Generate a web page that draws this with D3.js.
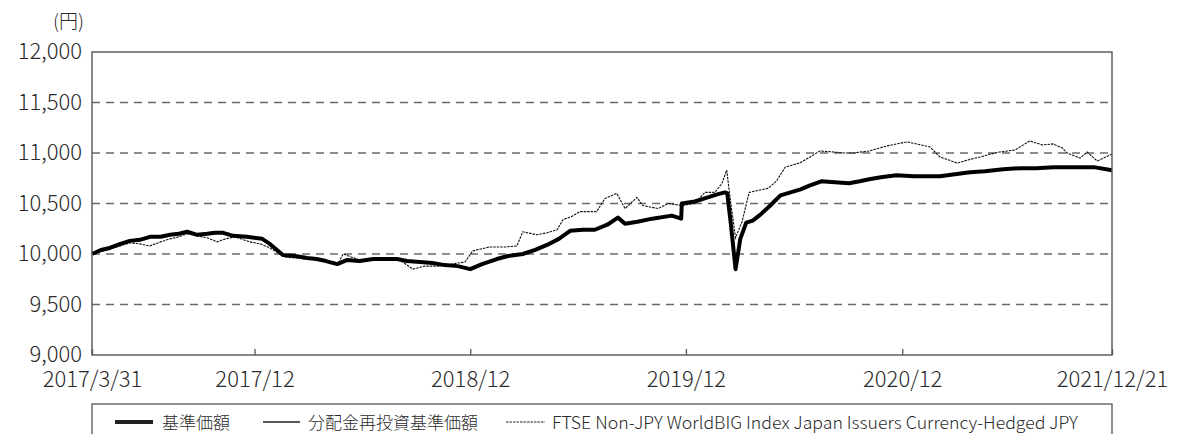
<!DOCTYPE html>
<html>
<head>
<meta charset="utf-8">
<script src="https://cdn.jsdelivr.net/npm/d3@7"></script>
<style>
  body { margin: 0; background: #fff; }
  svg { display: block; font-family: "Noto Sans CJK JP", "Noto Sans", sans-serif; font-weight: 300; }
</style>
</head>
<body>
<svg id="chart" width="1178" height="434"></svg>
<script>
//------------------------------------------------------------------------------
//Data
//------------------------------------------------------------------------------
// 基準価額 (no distributions, so 分配金再投資基準価額 runs on the same values)
let navDates = ["2017-03-31","2017-04-15","2017-04-30","2017-05-18","2017-06-03","2017-06-20","2017-07-07","2017-07-25",
  "2017-08-10","2017-08-25","2017-09-08","2017-09-25","2017-10-12","2017-10-25","2017-11-08","2017-11-25",
  "2017-12-18","2018-01-13","2018-01-26","2018-02-17","2018-03-10","2018-03-30","2018-04-15","2018-05-01","2018-05-20",
  "2018-06-05","2018-06-27","2018-07-20","2018-08-29","2018-09-15","2018-10-07","2018-10-28","2018-11-18","2018-12-10",
  "2018-12-31","2019-01-20","2019-02-14","2019-03-05","2019-03-30","2019-04-20","2019-05-10","2019-05-30","2019-06-18",
  "2019-07-10","2019-07-30","2019-08-20","2019-09-07","2019-09-19","2019-10-10","2019-11-04","2019-12-07","2019-12-23",
  "2019-12-24","2020-01-15","2020-02-06","2020-02-22","2020-03-06","2020-03-10","2020-03-16","2020-03-24","2020-04-01",
  "2020-04-11","2020-04-22","2020-05-05","2020-05-20","2020-06-08","2020-06-25","2020-07-12","2020-07-28","2020-08-16",
  "2020-09-08","2020-10-02","2020-10-20","2020-11-05","2020-11-25","2020-12-21","2021-01-20","2021-02-15","2021-03-05",
  "2021-03-30","2021-04-25","2021-05-20","2021-06-20","2021-07-20","2021-08-15","2021-09-13","2021-10-15","2021-11-20",
  "2021-12-21"];
let navValues = [10000,10040,10060,10100,10130,10140,10170,10170,
  10190,10200,10220,10190,10200,10210,10210,10180,
  10170,10150,10100,9990,9980,9960,9950,9930,9900,
  9940,9930,9950,9950,9930,9920,9910,9890,9880,
  9850,9900,9950,9980,10000,10040,10090,10150,10230,
  10240,10240,10290,10360,10300,10320,10350,10380,10350,
  10500,10520,10560,10590,10610,10600,10300,9850,10150,
  10310,10330,10390,10470,10580,10610,10640,10680,10720,
  10710,10700,10720,10740,10760,10780,10770,10770,10770,
  10790,10810,10820,10840,10850,10850,10860,10860,10860,
  10830];
let reinvestValues = navValues;

// FTSE Non-JPY WorldBIG Index Japan Issuers Currency-Hedged JPY
let idxDates = ["2017-03-31","2017-04-30","2017-05-18","2017-06-03","2017-06-20","2017-07-07","2017-07-25","2017-08-10",
  "2017-08-25","2017-09-08","2017-09-25","2017-10-12","2017-10-29","2017-11-12","2017-11-28","2017-12-23","2018-01-10",
  "2018-01-26","2018-02-21","2018-03-10","2018-03-30","2018-04-20","2018-05-20","2018-05-30","2018-06-27","2018-07-25",
  "2018-08-29","2018-09-25","2018-10-15","2018-11-10","2018-12-09","2018-12-22","2019-01-04","2019-02-02","2019-03-01",
  "2019-03-20","2019-03-30","2019-04-23","2019-05-10","2019-05-27","2019-06-06","2019-06-20","2019-07-05","2019-08-02",
  "2019-08-16","2019-09-05","2019-09-19","2019-10-09","2019-10-19","2019-11-14","2019-12-01","2019-12-25","2020-01-15",
  "2020-02-01","2020-02-18","2020-03-01","2020-03-09","2020-03-16","2020-03-24","2020-04-04","2020-04-16","2020-05-18",
  "2020-06-01","2020-06-16","2020-07-10","2020-07-25","2020-08-14","2020-09-05","2020-09-25","2020-10-09","2020-11-05",
  "2020-12-05","2021-01-08","2021-02-01","2021-02-16","2021-03-05","2021-03-20","2021-04-03","2021-04-20","2021-05-12",
  "2021-05-30","2021-06-14","2021-07-10","2021-08-04","2021-08-25","2021-09-12","2021-09-28","2021-10-06","2021-10-28",
  "2021-11-09","2021-11-26","2021-12-10","2021-12-21"];
let idxValues = [10000,10050,10080,10110,10100,10080,10120,10150,
  10170,10200,10180,10160,10120,10150,10170,10120,10100,
  10060,9970,9960,9950,9940,9890,10000,9940,9950,
  9960,9850,9880,9880,9910,9920,10030,10070,10070,
  10080,10220,10190,10210,10240,10340,10370,10420,10420,
  10550,10600,10450,10560,10480,10450,10500,10480,10500,
  10610,10610,10700,10830,10500,10160,10320,10610,10650,
  10720,10860,10900,10950,11020,11010,11000,11000,11020,
  11070,11110,11080,11060,10960,10930,10900,10930,10960,
  10990,11010,11030,11120,11080,11090,11050,11000,10950,
  11010,10920,10960,10990];

let yTicks = [9000,9500,10000,10500,11000,11500,12000];
let xTickDates = ["2017-03-31","2017-12-31","2018-12-31","2019-12-31","2020-12-31","2021-12-21"];
let xTickLabels = ["2017/3/31","2017/12","2018/12","2019/12","2020/12","2021/12/21"];
let legendLabels = ["基準価額","分配金再投資基準価額","FTSE Non-JPY WorldBIG Index Japan Issuers Currency-Hedged JPY"];


main()


//------------------------------------------------------------------------------
//Main
//------------------------------------------------------------------------------
function main()
{
    let parse = d3.timeParse("%Y-%m-%d");
    let nav = navDates.map((d, i) => ({date: parse(d), v: navValues[i]}));
    let reinv = navDates.map((d, i) => ({date: parse(d), v: reinvestValues[i]}));
    let idx = idxDates.map((d, i) => ({date: parse(d), v: idxValues[i]}));

    var svg = d3.select("#chart");
    var left = 92, right = 1112, top = 52, bottom = 355;

    var x = d3.scaleTime()
              .domain([parse("2017-03-31"), parse("2021-12-21")])
              .range([left, right]);
    var y = d3.scaleLinear()
              .domain([9000, 12000])
              .range([bottom, top]);

    // grid lines
    svg.append("g")
       .selectAll("line")
       .data(yTicks.filter(t => t > 9000 && t < 12000))
       .enter()
       .append("line")
       .attr("x1", left).attr("x2", right)
       .attr("y1", d => y(d)).attr("y2", d => y(d))
       .attr("stroke", "#6a6a6a")
       .attr("stroke-width", 1.5)
       .attr("stroke-dasharray", "8,6");

    // y axis labels
    var yAxis = d3.axisLeft(y).tickValues(yTicks).tickSize(0).tickPadding(10)
                  .tickFormat(d3.format(","));
    var gy = svg.append("g").attr("transform", "translate(" + left + ",0)").call(yAxis);
    gy.select(".domain").remove();
    gy.selectAll("text")
      .attr("font-size", 22)
      .attr("font-family", "Noto Sans CJK JP")
      .attr("font-weight", 300)
      .attr("fill", "#2a2a2a")
      .attr("dy", "0.3em");

    // x axis: inward ticks
    var xAxis = d3.axisBottom(x)
                  .tickValues(xTickDates.map(parse))
                  .tickSize(-6)
                  .tickPadding(19)
                  .tickFormat((d, i) => xTickLabels[i]);
    var gx = svg.append("g").attr("transform", "translate(0," + bottom + ")").call(xAxis);
    gx.select(".domain").remove();
    gx.selectAll("line").attr("stroke", "#555").attr("stroke-width", 1.3);
    gx.selectAll("text")
      .attr("font-size", 22)
      .attr("font-family", "Noto Sans CJK JP")
      .attr("font-weight", 300)
      .attr("fill", "#2a2a2a")
      .attr("dy", "0.6em");

    // unit label
    svg.append("text")
       .attr("x", 84).attr("y", 28)
       .attr("text-anchor", "end")
       .attr("font-size", 19)
       .attr("fill", "#2a2a2a")
       .text("(円)");

    // series
    var line = d3.line().x(d => x(d.date)).y(d => y(d.v));

    svg.append("path")
       .datum(idx)
       .attr("fill", "none")
       .attr("stroke", "#111")
       .attr("stroke-width", 1.1)
       .attr("stroke-dasharray", "2.5,1")
       .attr("d", line);

    svg.append("path")
       .datum(nav)
       .attr("fill", "none")
       .attr("stroke", "#000")
       .attr("stroke-width", 4)
       .attr("stroke-linejoin", "round")
       .attr("d", line);

    svg.append("path")
       .datum(reinv)
       .attr("fill", "none")
       .attr("stroke", "#000")
       .attr("stroke-width", 1.2)
       .attr("d", line);

    // frame
    svg.append("rect")
       .attr("x", left).attr("y", top)
       .attr("width", right - left).attr("height", bottom - top)
       .attr("fill", "none")
       .attr("stroke", "#555")
       .attr("stroke-width", 1.4);

    legend(svg, left, right);
}



//------------------------------------------------------------------------------
//Legend
//------------------------------------------------------------------------------
function legend(svg, left, right)
{
    var g = svg.append("g");
    g.append("rect")
     .attr("x", left).attr("y", 404)
     .attr("width", right - left).attr("height", 60)
     .attr("fill", "none")
     .attr("stroke", "#555")
     .attr("stroke-width", 1.3);

    var items = [
        {x0: 115, x1: 153, w: 4, dash: null, tx: 162, len: null},
        {x0: 263, x1: 300, w: 1.5, dash: null, tx: 308, len: null},
        {x0: 506, x1: 545, w: 1.1, dash: "2.5,1", tx: 552, len: 526}
    ];

    items.forEach((it, i) => {
        g.append("line")
         .attr("x1", it.x0).attr("x2", it.x1)
         .attr("y1", 422).attr("y2", 422)
         .attr("stroke", "#222")
         .attr("stroke-width", it.w)
         .attr("stroke-dasharray", it.dash);
        var t = g.append("text")
         .attr("x", it.tx).attr("y", 429)
         .attr("font-size", 17)
         .attr("fill", "#2a2a2a")
         .text(legendLabels[i]);
        if (it.len) t.attr("textLength", it.len).attr("lengthAdjust", "spacingAndGlyphs");
    });
}
</script>
</body>
</html>
